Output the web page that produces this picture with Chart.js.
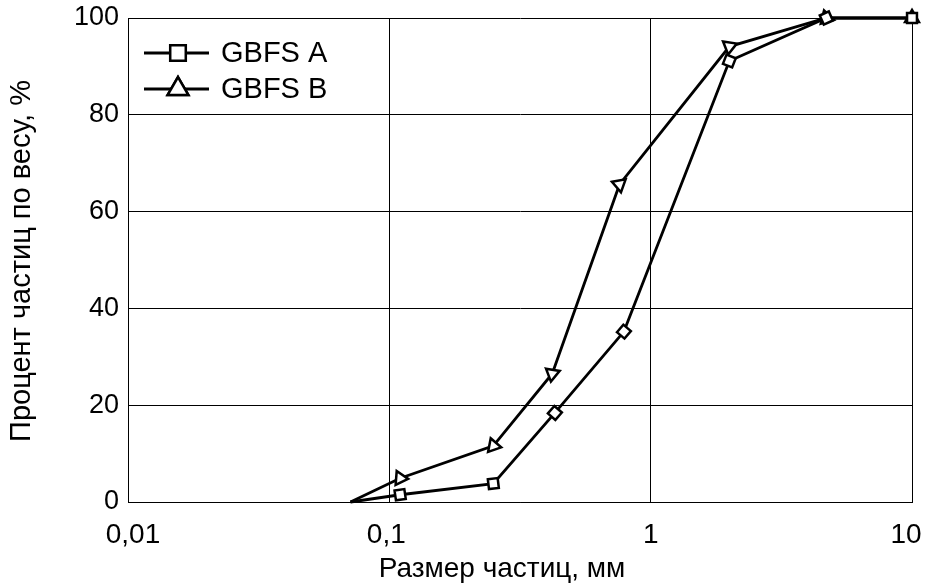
<!DOCTYPE html>
<html>
<head>
<meta charset="utf-8">
<script src="https://cdn.jsdelivr.net/npm/chart.js@4.4.1/dist/chart.umd.min.js"></script>
<style>
  html, body { margin: 0; background: #fff; }
</style>
</head>
<body>
<canvas id="chart" width="925" height="585"></canvas>
<script>
// ---------- DATA ----------
const seriesNames = ['GBFS A', 'GBFS B'];
const sizesA = [0.071, 0.11, 0.25, 0.43, 0.79, 2.0, 4.7, 10];
const passingA = [0, 1.5, 3.8, 18.4, 35.2, 91.1, 100, 100];
const sizesB = [0.071, 0.11, 0.25, 0.42, 0.76, 2.0, 4.7, 10];
const passingB = [0, 4.9, 11.6, 26.5, 65.6, 94.1, 100, 100];
const xTicks = [0.01, 0.1, 1, 10];
const xTickLabels = ['0,01', '0,1', '1', '10'];
const xTitle = 'Размер частиц, мм';
const yTitle = 'Процент частиц по весу, %';

// ---------- STYLE ----------
const FONT = '"Liberation Sans", Arial, sans-serif';
const labelShift = [5, -3, 0, -6];   // small nudges of the x tick labels

const toPoints = (xs, ys) => xs.map((x, i) => ({ x, y: ys[i] }));

// markers turned along the incoming segment
function markerRotation(ctx) {
  if (ctx.type !== 'data' || ctx.dataIndex === 0) return 0;
  const d = ctx.dataset.data;
  const sx = ctx.chart.scales.x, sy = ctx.chart.scales.y;
  const p = d[ctx.dataIndex - 1], q = d[ctx.dataIndex];
  const dx = sx.getPixelForValue(q.x) - sx.getPixelForValue(p.x);
  const dy = sy.getPixelForValue(q.y) - sy.getPixelForValue(p.y);
  return Math.atan2(dy, dx) * 180 / Math.PI;
}

function series(label, pts, style, r) {
  return {
    label, data: pts, pointStyle: style,
    borderColor: '#000', borderWidth: 2.8, tension: 0, clip: false,
    pointRadius: c => c.dataIndex === 0 ? 0 : r,
    pointHoverRadius: c => c.dataIndex === 0 ? 0 : r,
    pointBackgroundColor: '#fff', pointBorderColor: '#000', pointBorderWidth: 2.5,
    pointRotation: markerRotation
  };
}

// ---------- extra drawing: legend, x labels, titles ----------
const decorPlugin = {
  id: 'decor',
  afterDraw(chart) {
    const { ctx, scales: { x } } = chart;
    ctx.save();
    ctx.fillStyle = '#000';

    // x tick labels
    ctx.font = `28px ${FONT}`;
    ctx.textAlign = 'center';
    ctx.textBaseline = 'middle';
    xTicks.forEach((v, i) => ctx.fillText(xTickLabels[i], x.getPixelForValue(v) + labelShift[i], 535));

    // axis titles
    ctx.fillText(xTitle, 502, 569);
    ctx.save();
    ctx.translate(22, 261);
    ctx.rotate(-Math.PI / 2);
    ctx.font = `29px ${FONT}`;
    ctx.fillText(yTitle, 0, 0);
    ctx.restore();

    // legend
    const rows = [
      { y: 53, style: 'rect', r: 11 },
      { y: 89, style: 'triangle', r: 12 }
    ];
    rows.forEach((row, i) => {
      ctx.strokeStyle = '#000';
      ctx.lineWidth = 2.8;
      ctx.beginPath();
      ctx.moveTo(144, row.y);
      ctx.lineTo(209, row.y);
      ctx.stroke();
      ctx.fillStyle = '#fff';
      ctx.lineWidth = 2.5;
      Chart.helpers.drawPoint(ctx, { pointStyle: row.style, radius: row.r, rotation: 0, borderWidth: 2.5 }, 178, row.y);
      ctx.fill();
      ctx.stroke();
      ctx.fillStyle = '#000';
      ctx.font = `29px ${FONT}`;
      ctx.textAlign = 'left';
      ctx.fillText(seriesNames[i], 221, row.y + 1);
    });
    ctx.restore();
  }
};

new Chart(document.getElementById('chart'), {
  type: 'line',
  data: {
    datasets: [
      series(seriesNames[0], toPoints(sizesA, passingA), 'rect', 7),
      series(seriesNames[1], toPoints(sizesB, passingB), 'triangle', 8)
    ]
  },
  options: {
    responsive: false,
    animation: false,
    devicePixelRatio: 1,
    layout: { padding: { left: 0, top: 18, right: 13, bottom: 83 } },
    plugins: { legend: { display: false }, tooltip: { enabled: false } },
    scales: {
      x: {
        type: 'logarithmic', min: 0.01, max: 10,
        afterBuildTicks: s => { s.ticks = xTicks.map(v => ({ value: v })); },
        afterFit: s => { s.height = 0; s.paddingLeft = 0; s.paddingRight = 0; },
        ticks: { display: false },
        grid: { color: '#000', lineWidth: 1, drawTicks: false },
        border: { color: '#000', width: 1 }
      },
      y: {
        min: 0, max: 100,
        afterFit: s => { s.width = 128; s.paddingTop = 0; s.paddingBottom = 0; },
        ticks: { stepSize: 20, color: '#000', padding: 9, font: { family: FONT, size: 27 } },
        grid: { color: '#000', lineWidth: 1, drawTicks: false },
        border: { color: '#000', width: 1 }
      }
    }
  },
  plugins: [decorPlugin]
});
</script>
</body>
</html>
